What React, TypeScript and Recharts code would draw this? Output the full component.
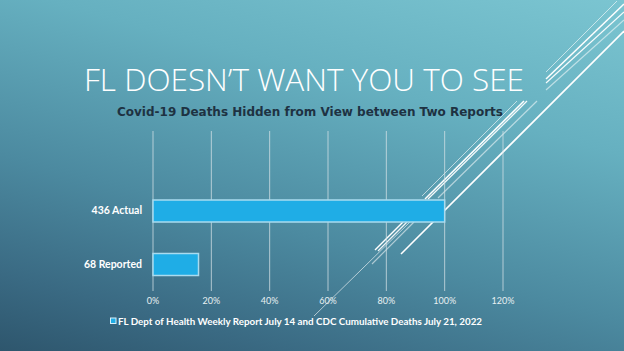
import { Bar, BarChart, CartesianGrid, XAxis, YAxis } from "recharts";

const slideTitle = "FL DOESN\u2019T WANT YOU TO SEE";
const chartTitle = "Covid-19 Deaths Hidden from View between Two Reports";
const seriesName = "FL Dept of Health Weekly Report July 14 and CDC Cumulative Deaths July 21, 2022";

const categories = ["436 Actual", "68 Reported"];
const shareOfActual = [1.0, 0.156];
const xTicks = [0, 0.2, 0.4, 0.6, 0.8, 1.0, 1.2];

const data = categories.map((name, i) => ({ name, share: shareOfActual[i] }));

// decorative slide lines (theme artwork, not data)
const decor = [
    { x1: 546, y1: 72, x2: 617, y2: 1, w: 1, o: 0.6 },
    { x1: 546, y1: 79, x2: 624, y2: 4, w: 1.5, o: 1 },
    { x1: 546, y1: 83, x2: 624, y2: 12, w: 1.2, o: 0.95 },
    { x1: 546, y1: 90, x2: 624, y2: 20, w: 1.2, o: 0.55 },
    { x1: 624, y1: 31, x2: 401, y2: 254, w: 1.6, o: 1 },
    { x1: 517, y1: 101, x2: 422, y2: 196, w: 1, o: 0.6 },
    { x1: 524, y1: 101, x2: 425, y2: 199, w: 1.5, o: 1 },
    { x1: 527, y1: 101, x2: 428, y2: 199, w: 1.2, o: 0.95 },
    { x1: 537, y1: 101, x2: 438, y2: 198, w: 1.2, o: 0.55 },
    { x1: 403, y1: 222, x2: 375, y2: 250, w: 1.5, o: 1 },
    { x1: 407, y1: 222, x2: 378, y2: 251, w: 1.2, o: 0.9 },
    { x1: 414, y1: 222, x2: 372, y2: 264, w: 1.2, o: 0.55 },
    { x1: 410, y1: 222, x2: 314, y2: 316, w: 1, o: 0.6 },
];

const pct = (v: number) => `${Math.round(v * 100)}%`;

const App = () => {
    return <div style={{
        position: "absolute", left: 0, top: 0, width: 624, height: 351, overflow: "hidden",
        background: "linear-gradient(195deg, #7bc5d1 0%, #66b0c0 30%, #4c8aa0 62%, #3a6a83 85%, #2e566d 100%)",
    }}>
        <svg width={624} height={351} style={{ position: "absolute", left: 0, top: 0 }}>
            {decor.map((d, i) => (
                <line key={i} x1={d.x1} y1={d.y1} x2={d.x2} y2={d.y2} stroke="#ffffff" strokeWidth={d.w} strokeOpacity={d.o} />
            ))}
            <text x={84} y={91} fill="#ffffff" fontFamily="'Open Sans', Lato, sans-serif" fontWeight={300} fontSize={32}
                textLength={440} lengthAdjust="spacingAndGlyphs">{slideTitle}</text>
            <text x={117} y={115.5} fill="#1e3242" fontFamily="'DejaVu Sans', Lato, sans-serif" fontWeight={700} fontSize={12}
                textLength={386} lengthAdjust="spacingAndGlyphs">{chartTitle}</text>
            <rect x={110.5} y={318} width={5.5} height={5.5} fill="#1fade6" stroke="#d8f0fa" strokeWidth={1} />
            <text x={118} y={325} fill="#ffffff" fontFamily="Lato, 'Open Sans', sans-serif" fontWeight={700} fontSize={9.5}
                textLength={364} lengthAdjust="spacingAndGlyphs">{seriesName}</text>
        </svg>
        <div style={{ position: "absolute", left: 0, top: 0 }}>
            <BarChart width={624} height={351} data={data} layout="vertical"
                margin={{ top: 131, right: 121, bottom: 0, left: 0 }} barSize={22}>
                <CartesianGrid horizontal={false} stroke="#d6e2e7" strokeOpacity={0.75} />
                <XAxis type="number" domain={[0, 1.2]} ticks={xTicks} tickFormatter={pct} height={60}
                    axisLine={false} tickLine={false} tickSize={4} tickMargin={3} interval={0}
                    tick={{ fill: "#e8f0f2", fontSize: 9, fontFamily: "Lato, sans-serif" }} />
                <YAxis type="category" dataKey="name" width={153} axisLine={false} tickLine={false} tickMargin={5}
                    padding={{ top: 53, bottom: 0 }}
                    tick={{ fill: "#ffffff", fontSize: 10.5, fontWeight: 700, fontFamily: "Lato, sans-serif" }} />
                <Bar dataKey="share" name={seriesName} fill="#1fade6" stroke="#a9dbef" strokeWidth={1.5} isAnimationActive={false} />
            </BarChart>
        </div>
    </div>;
};

export default App;
